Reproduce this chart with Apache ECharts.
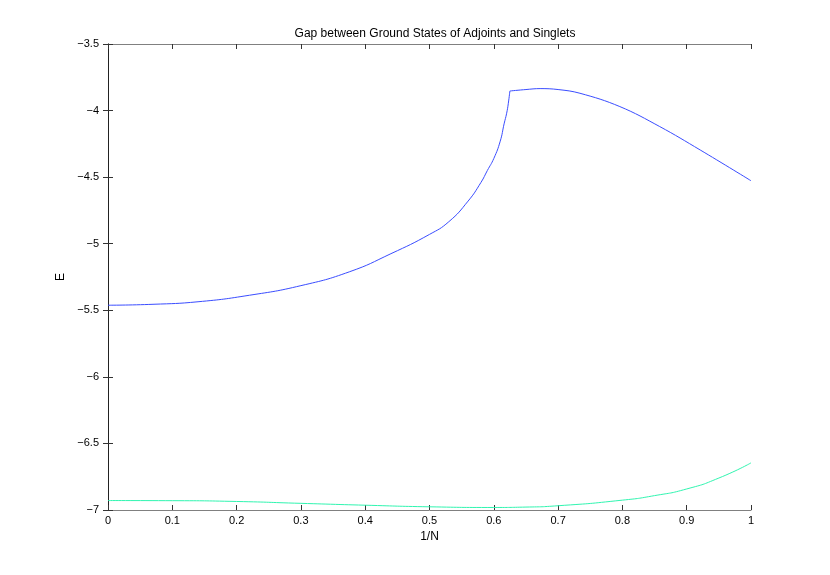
<!DOCTYPE html>
<html>
<head>
<meta charset="utf-8">
<script src="https://cdn.jsdelivr.net/npm/echarts@6/dist/echarts.min.js"></script>
<style>
  html, body { margin: 0; padding: 0; background: #fff; }
</style>
</head>
<body>
<!-- 图表容器 -->
<div id="gapChart" style="width: 830px; height: 575px"></div>
<script>
// 横轴 1/N，纵轴 E
const xTicks = [0, 0.1, 0.2, 0.3, 0.4, 0.5, 0.6, 0.7, 0.8, 0.9, 1]
const yTicks = [-7, -6.5, -6, -5.5, -5, -4.5, -4, -3.5]

// 伴随态（蓝色）：拐点前的上升段
const adjointRiseX = [0, 0.07, 0.14, 0.22, 0.3, 0.376, 0.44, 0.5, 0.53, 0.56, 0.58, 0.59, 0.6, 0.61, 0.616, 0.62, 0.6226, 0.625]
const adjointRiseY = [-5.462, -5.455, -5.436, -5.387, -5.315, -5.21, -5.075, -4.93, -4.835, -4.68, -4.54, -4.45, -4.36, -4.23, -4.10, -4.02, -3.945, -3.853]
// 伴随态（蓝色）：拐点后的下降段
const adjointFallX = [0.625, 0.65, 0.672, 0.7, 0.734, 0.796, 0.858, 0.921, 1]
const adjointFallY = [-3.853, -3.842, -3.835, -3.842, -3.87, -3.97, -4.12, -4.296, -4.527]

// 单态（青色）
const singletX = [0, 0.1, 0.2, 0.3, 0.4, 0.5, 0.6, 0.65, 0.7, 0.8, 0.85, 0.9, 0.95, 1]
const singletY = [-6.929, -6.93, -6.936, -6.95, -6.964, -6.976, -6.981, -6.978, -6.968, -6.926, -6.892, -6.842, -6.76, -6.646]

const pairs = (xs, ys) => xs.map((x, i) => [x, ys[i]])
const minus = (v) => String(v).replace('-', '\u2212')

const font = 'Liberation Sans, Arial, sans-serif'
const boxColor = '#808080'

const chart = echarts.init(document.getElementById('gapChart'))

const baseX = {
  type: 'value',
  min: 0,
  max: 1,
  interval: 0.1,
  splitLine: { show: false },
  axisTick: { inside: true, length: 5, lineStyle: { color: '#333' } }
}
const baseY = {
  type: 'value',
  min: -7,
  max: -3.5,
  interval: 0.5,
  splitLine: { show: false },
  axisTick: { inside: true, length: 5, lineStyle: { color: '#333' } }
}

const option = {
  animation: false,
  backgroundColor: '#fff',
  title: {
    text: 'Gap between Ground States of Adjoints and Singlets',
    left: 430,
    top: 23,
    textAlign: 'center',
    textStyle: { fontFamily: font, fontSize: 12, fontWeight: 'normal', color: '#000' }
  },
  grid: { left: 108, right: 79, top: 44, bottom: 65, containLabel: false },
  xAxis: [
    {
      ...baseX,
      position: 'bottom',
      name: '1/N',
      nameLocation: 'middle',
      nameGap: 15,
      nameTextStyle: { fontFamily: font, fontSize: 12, color: '#000' },
      axisLine: { lineStyle: { color: boxColor, width: 1 } },
      axisLabel: { margin: 5, fontFamily: font, fontSize: 11, color: '#000', formatter: (v) => minus(v) }
    },
    {
      ...baseX,
      position: 'top',
      axisLine: { lineStyle: { color: boxColor, width: 1 } },
      axisLabel: { show: false }
    }
  ],
  yAxis: [
    {
      ...baseY,
      position: 'left',
      name: 'E',
      nameLocation: 'middle',
      nameGap: 32,
      nameRotate: 90,
      nameTextStyle: { fontFamily: font, fontSize: 12, color: '#000' },
      axisLine: { lineStyle: { color: boxColor, width: 1 } },
      axisLabel: { margin: 9, fontFamily: font, fontSize: 11, color: '#000', formatter: (v) => minus(v) }
    },
    {
      ...baseY,
      position: 'right',
      axisLine: { lineStyle: { color: '#222', width: 1 } },
      axisLabel: { show: false }
    }
  ],
  series: [
    {
      name: 'Adjoint',
      type: 'line',
      data: pairs(adjointRiseX, adjointRiseY),
      smooth: 0.5,
      showSymbol: false,
      lineStyle: { color: '#3a4dff', width: 1 }
    },
    {
      name: 'Adjoint',
      type: 'line',
      data: pairs(adjointFallX, adjointFallY),
      smooth: 0.4,
      showSymbol: false,
      lineStyle: { color: '#3a4dff', width: 1 }
    },
    {
      name: 'Singlet',
      type: 'line',
      data: pairs(singletX, singletY),
      smooth: 0.6,
      showSymbol: false,
      lineStyle: { color: '#30f5b0', width: 1 }
    }
  ]
}

chart.setOption(option)
</script>
</body>
</html>
